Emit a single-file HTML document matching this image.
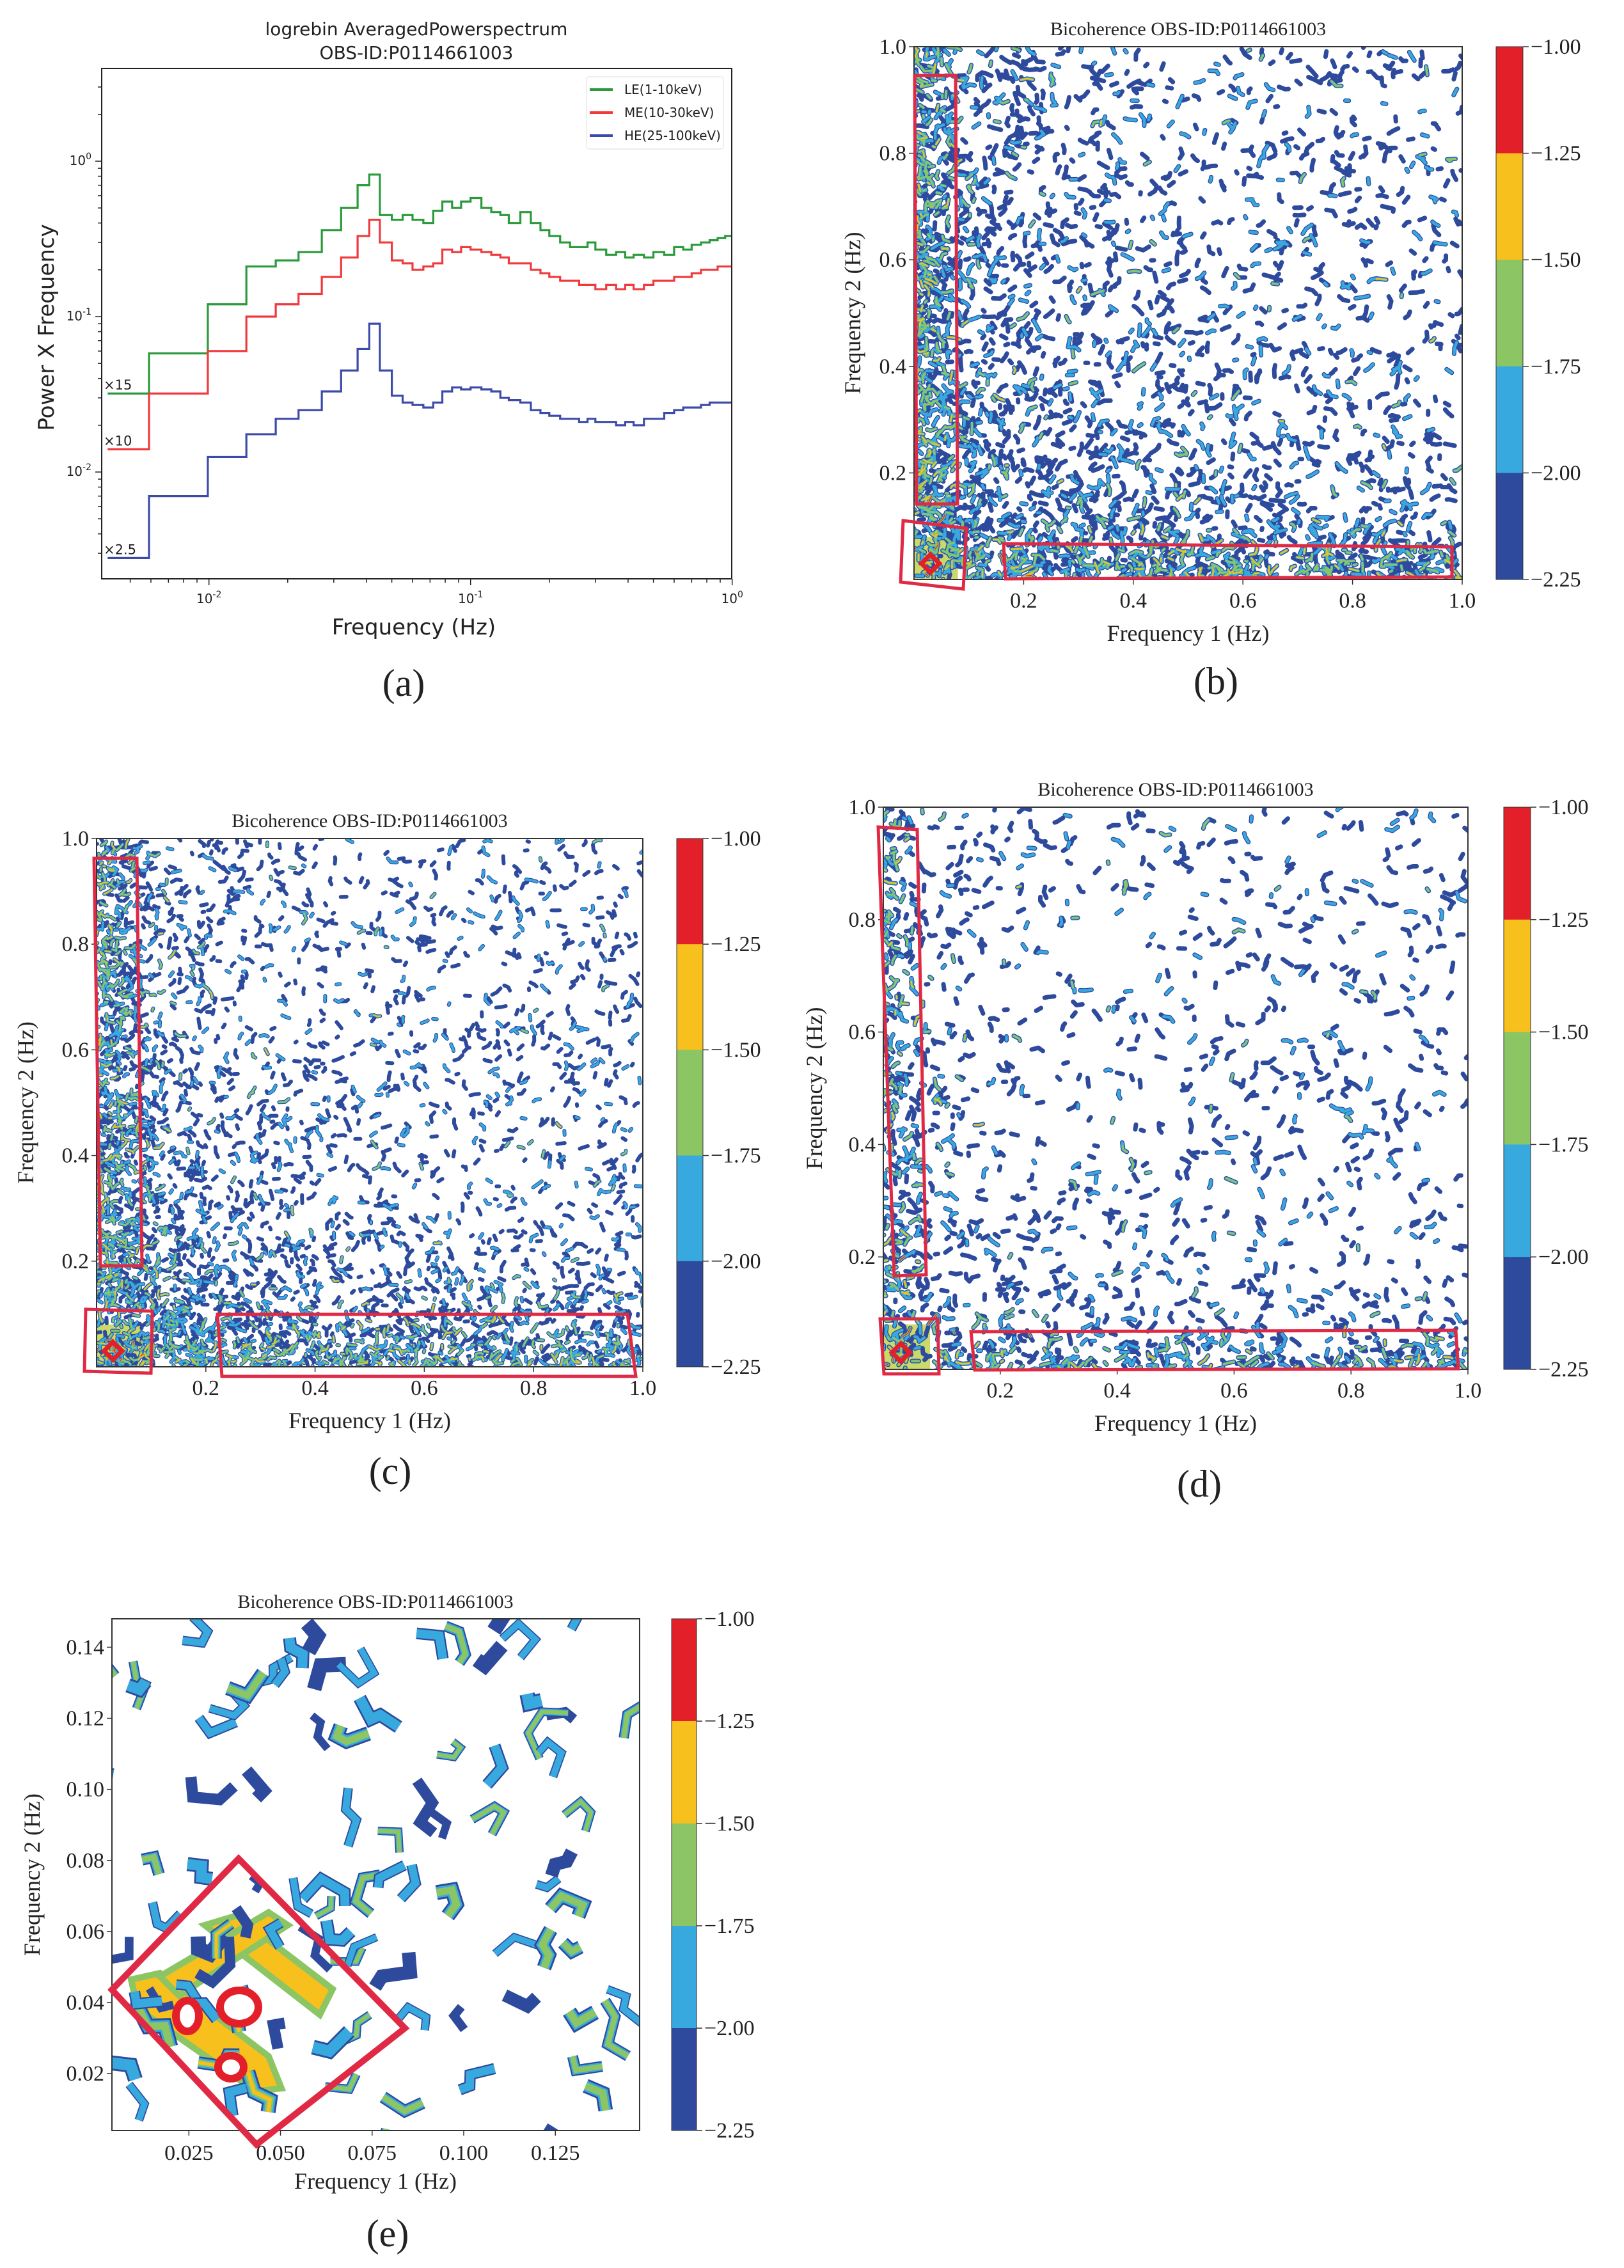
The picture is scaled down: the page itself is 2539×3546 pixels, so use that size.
<!DOCTYPE html>
<html><head><meta charset="utf-8">
<style>
html,body{margin:0;padding:0;background:#fff;}
svg{display:block;}
.sans{font-family:"DejaVu Sans","Liberation Sans",sans-serif;}
.serif{font-family:"Liberation Serif","DejaVu Serif",serif;}
</style></head>
<body>
<svg id="fig" xmlns="http://www.w3.org/2000/svg" width="2539" height="3546" viewBox="0 0 2539 3546">
<rect x="0" y="0" width="2539" height="3546" fill="#fff"/>
</svg>
<script>
// ---- Panel (a) data ----
const binEdges = [0.0041,0.0059,0.0099,0.0139,0.018,0.022,0.027,0.032,0.037,0.041,0.045,0.050,0.055,0.060,0.066,0.072,0.078,0.085,0.092,0.10,0.11,0.12,0.13,0.14,0.155,0.17,0.185,0.2,0.22,0.24,0.26,0.28,0.30,0.33,0.36,0.39,0.42,0.46,0.50,0.55,0.60,0.65,0.70,0.76,0.82,0.88,0.94,1.0];
const leValues = [0.032,0.058,0.12,0.21,0.23,0.26,0.36,0.5,0.7,0.82,0.45,0.42,0.45,0.42,0.40,0.48,0.55,0.50,0.55,0.58,0.50,0.47,0.45,0.40,0.47,0.40,0.36,0.33,0.30,0.28,0.28,0.30,0.27,0.25,0.26,0.24,0.25,0.24,0.26,0.25,0.28,0.27,0.29,0.30,0.31,0.32,0.33];
const meValues = [0.014,0.032,0.06,0.10,0.12,0.14,0.18,0.24,0.33,0.42,0.30,0.23,0.22,0.20,0.21,0.22,0.27,0.26,0.28,0.27,0.26,0.25,0.24,0.22,0.22,0.20,0.19,0.18,0.17,0.17,0.16,0.16,0.15,0.16,0.15,0.16,0.15,0.16,0.17,0.17,0.18,0.18,0.19,0.20,0.20,0.21,0.21];
const heValues = [0.0028,0.007,0.0125,0.0175,0.022,0.025,0.033,0.045,0.062,0.09,0.045,0.031,0.028,0.027,0.026,0.028,0.033,0.035,0.034,0.035,0.034,0.033,0.030,0.029,0.028,0.025,0.024,0.023,0.022,0.022,0.021,0.022,0.021,0.021,0.020,0.021,0.020,0.022,0.022,0.024,0.025,0.026,0.026,0.027,0.028,0.028,0.028];
const seriesNames = ["LE(1-10keV)","ME(10-30keV)","HE(25-100keV)"];
const scaleLabels = ["×15","×10","×2.5"];
const xDecades = [-2,-1,0];
const yDecades = [0,-1,-2];
// ---- colorbar data ----
const cbTicks = ["−1.00","−1.25","−1.50","−1.75","−2.00","−2.25"];
const linTicks01 = [0.2,0.4,0.6,0.8,1.0];
const zoomTicksX = [0.025,0.050,0.075,0.100,0.125];
const zoomTicksY = [0.02,0.04,0.06,0.08,0.10,0.12,0.14];

const NS="http://www.w3.org/2000/svg";
const svg=document.getElementById('fig');
function mk(tag,parent){const e=document.createElementNS(NS,tag);(parent||svg).appendChild(e);return e;}
function txt(parent,x,y,s,size,cls,anchor){const t=mk('text',parent);t.setAttribute('x',x);t.setAttribute('y',y);t.setAttribute('font-size',size);t.setAttribute('class',cls);t.setAttribute('text-anchor',anchor||'middle');t.setAttribute('fill','#222');t.textContent=s;return t;}
const COLS=["#2e4a9c","#38a9df","#8cc563","#f8c01c","#e3202a"];

// ================= Panel (a) =================
(function(){
const g=mk('g');


const L=159,R=1144,T=107,B=905;
const fx=f=>L+(Math.log10(f)+2.41)*409;
const py=p=>252-Math.log10(p)*243;
const cp=mk('clipPath',g);cp.setAttribute('id','clipA');
const cr=mk('rect',cp);cr.setAttribute('x',L);cr.setAttribute('y',T);cr.setAttribute('width',R-L);cr.setAttribute('height',B-T);
let t=txt(g,651,55,"logrebin AveragedPowerspectrum",28,'sans');


t=txt(g,651,92,"OBS-ID:P0114661003",28,'sans');


const series=[leValues,meValues,heValues];const cols=["#2a9a3a","#f0393c","#3c4aa8"];
series.forEach((vals,si)=>{
  let d='M'+fx(binEdges[0])+','+py(vals[0]);
  for(let i=0;i<vals.length;i++){ if(i>0) d+=' V'+py(vals[i]); d+=' H'+fx(binEdges[i+1]); }
  const p=mk('path',g);p.setAttribute('d',d);p.setAttribute('fill','none');p.setAttribute('stroke',cols[si]);p.setAttribute('stroke-width',3.2);p.setAttribute('clip-path','url(#clipA)');
  
  
  const s=txt(g,L+3,py(vals[0])-6,scaleLabels[si],21,'sans','start');
  
  
});
const fr=mk('rect',g);fr.setAttribute('x',L);fr.setAttribute('y',T);fr.setAttribute('width',R-L);fr.setAttribute('height',B-T);fr.setAttribute('fill','none');fr.setAttribute('stroke','#222');fr.setAttribute('stroke-width',2);


for(let dcd=-3;dcd<=0;dcd++){for(let k=1;k<10;k++){const f=k*Math.pow(10,dcd);if(f<0.0041||f>1.001)continue;const x=fx(f);const ln=mk('line',g);ln.setAttribute('x1',x);ln.setAttribute('x2',x);ln.setAttribute('y1',B);ln.setAttribute('y2',B+(k==1?10:6));ln.setAttribute('stroke','#222');ln.setAttribute('stroke-width',1.5);}}
xDecades.forEach(d=>{const x=fx(Math.pow(10,d));const tt=mk('text',g);tt.setAttribute('x',x);tt.setAttribute('y',B+38);tt.setAttribute('font-size',20);tt.setAttribute('class','sans');tt.setAttribute('text-anchor','middle');tt.setAttribute('fill','#222');tt.innerHTML='10<tspan dy="-9" font-size="14">'+d+'</tspan>';

});
for(let dcd=-3;dcd<=0;dcd++){for(let k=1;k<10;k++){const p=k*Math.pow(10,dcd);const y=py(p);if(y<T||y>B)continue;const ln=mk('line',g);ln.setAttribute('x1',L);ln.setAttribute('x2',L-(k==1?10:6));ln.setAttribute('y1',y);ln.setAttribute('y2',y);ln.setAttribute('stroke','#222');ln.setAttribute('stroke-width',1.5);}}
yDecades.forEach(d=>{const y=py(Math.pow(10,d));const tt=mk('text',g);tt.setAttribute('x',L-16);tt.setAttribute('y',y+6);tt.setAttribute('font-size',20);tt.setAttribute('class','sans');tt.setAttribute('text-anchor','end');tt.setAttribute('fill','#222');tt.innerHTML='10<tspan dy="-9" font-size="14">'+d+'</tspan>';

});
t=txt(g,647,992,"Frequency (Hz)",34,'sans');


t=txt(g,0,0,"Power X Frequency",34,'sans');t.setAttribute('transform','translate(84,512) rotate(-90)');


const lg=mk('g',g);


const lb=mk('rect',lg);lb.setAttribute('x',917);lb.setAttribute('y',120);lb.setAttribute('width',214);lb.setAttribute('height',113);lb.setAttribute('rx',4);lb.setAttribute('fill','#fff');lb.setAttribute('stroke','#ddd');
seriesNames.forEach((n,i)=>{const y=140+i*36;const ln=mk('line',lg);ln.setAttribute('x1',922);ln.setAttribute('x2',958);ln.setAttribute('y1',y);ln.setAttribute('y2',y);ln.setAttribute('stroke',cols[i]);ln.setAttribute('stroke-width',4);
const e=txt(lg,976,y+7,n,20,'sans','start');

});
t=txt(g,631,1088,"(a)",60,'serif');


})();

function rng(seed){let s=seed>>>0;return ()=>{s=(s*1664525+1013904223)>>>0;return s/4294967296;};}

function colorbar(g,x0,x1,T,B){
  const h=(B-T)/5;
  for(let i=0;i<5;i++){const r=mk('rect',g);r.setAttribute('x',x0);r.setAttribute('y',T+i*h);r.setAttribute('width',x1-x0);r.setAttribute('height',h+0.5);r.setAttribute('fill',COLS[4-i]);
  
  }
  const f=mk('rect',g);f.setAttribute('x',x0);f.setAttribute('y',T);f.setAttribute('width',x1-x0);f.setAttribute('height',B-T);f.setAttribute('fill','none');f.setAttribute('stroke','#333');f.setAttribute('stroke-width',1);
  cbTicks.forEach((s,i)=>{const y=T+i*h;const ln=mk('line',g);ln.setAttribute('x1',x1);ln.setAttribute('x2',x1+9);ln.setAttribute('y1',y);ln.setAttribute('y2',y);ln.setAttribute('stroke','#333');ln.setAttribute('stroke-width',1.5);
  const t=txt(g,x1+12,y+11,s,34,'serif','start');
  
  });
}

function axesCommon(g,c,xt,yt,xmin,xmax,fmt){
  const sx=v=>c.L+(v-xmin)/(xmax-xmin)*(c.R-c.L);
  const sy=v=>c.B-(v-xmin)/(xmax-xmin)*(c.B-c.T);
  const f=mk('rect',g);f.setAttribute('x',c.L);f.setAttribute('y',c.T);f.setAttribute('width',c.R-c.L);f.setAttribute('height',c.B-c.T);f.setAttribute('fill','none');f.setAttribute('stroke','#333');f.setAttribute('stroke-width',2);
  
  
  xt.forEach(v=>{const x=sx(v);const ln=mk('line',g);ln.setAttribute('x1',x);ln.setAttribute('x2',x);ln.setAttribute('y1',c.B);ln.setAttribute('y2',c.B+8);ln.setAttribute('stroke','#333');ln.setAttribute('stroke-width',1.5);
  const t=txt(g,x,c.B+44,fmt(v),34,'serif');
  
  });
  yt.forEach(v=>{const y=sy(v);const ln=mk('line',g);ln.setAttribute('x1',c.L);ln.setAttribute('x2',c.L-8);ln.setAttribute('y1',y);ln.setAttribute('y2',y);ln.setAttribute('stroke','#333');ln.setAttribute('stroke-width',1.5);
  const t=txt(g,c.L-12,y+11,fmt(v),34,'serif','end');
  
  });
  let t=txt(g,(c.L+c.R)/2,c.T-18,"Bicoherence OBS-ID:P0114661003",30,'serif');
  
  
  t=txt(g,(c.L+c.R)/2,c.B+96,"Frequency 1 (Hz)",36,'serif');
  
  
  t=txt(g,0,0,"Frequency 2 (Hz)",36,'serif');t.setAttribute('transform','translate('+c.yl+','+((c.T+c.B)/2)+') rotate(-90)');
  
  
  t=txt(g,c.lx,c.ly,c.label,60,'serif');
  
  
}

function speckle(c){
  const g=mk('g');
  
  
  const id='clip'+c.name;const cp=mk('clipPath',g);cp.setAttribute('id',id);
  const cr=mk('rect',cp);cr.setAttribute('x',c.L);cr.setAttribute('y',c.T);cr.setAttribute('width',c.R-c.L);cr.setAttribute('height',c.B-c.T);
  const tex=mk('g',g);tex.setAttribute('clip-path','url(#'+id+')');
  
  
  const r=rng(c.seed);const W=c.R-c.L,H=c.B-c.T;
  const base=mk('path',tex);
  base.setAttribute('d','M'+c.L+','+c.B+' L'+(c.L+0.08*W)+','+c.B+' L'+(c.L+0.08*W)+','+(c.B-0.08*H)+' L'+c.L+','+(c.B-0.08*H)+'Z');
  base.setAttribute('fill','#c9d96a');
  const layers=[[],[],[],[],[]];
  for(let i=0;i<c.N;i++){
    const u=r(),v=r();
    const near=Math.exp(-u/c.k)+Math.exp(-v/c.k);
    const p=Math.min(1,c.base+c.amp*near+c.corner*Math.exp(-(u+v)/0.3));
    if(r()>p)continue;
    const hot=Math.exp(-u/0.06)*Math.exp(-v/0.06);
    let lvl=0;const q=r();
    const boost=Math.min(1,near*1.2)*c.heat;
    if(q<0.3+boost*0.5)lvl=1;
    if(q<0.05+boost*0.45)lvl=2;
    if(q<0.005+boost*0.12+hot*0.5)lvl=3;
    if(q<hot*0.3)lvl=4;
    let x=c.L+u*W,y=c.B-v*H;let d='M'+x.toFixed(1)+','+y.toFixed(1);
    const segs=1+Math.floor(r()*2);let a=r()*Math.PI*2;
    for(let s=0;s<segs;s++){a+=(r()-0.5)*2;const len=(3+r()*8)*c.sz;x+=Math.cos(a)*len;y+=Math.sin(a)*len;d+=' L'+x.toFixed(1)+','+y.toFixed(1);}
    for(let l=0;l<=lvl;l++)layers[l].push(d);
  }
  const widths=[7,4.5,3,2,1.4];
  layers.forEach((arr,l)=>{if(!arr.length)return;const p=mk('path',tex);p.setAttribute('d',arr.join(' '));p.setAttribute('fill','none');p.setAttribute('stroke',COLS[l]);p.setAttribute('stroke-width',widths[l]*c.sz);p.setAttribute('stroke-linecap','round');p.setAttribute('stroke-linejoin','round');});
  const sp=mk('path',tex);const ox=c.L+0.03*W,oy=c.B-0.03*H;sp.setAttribute('d','M'+(ox-14)+','+oy+' L'+ox+','+(oy-14)+' L'+(ox+14)+','+oy+' L'+ox+','+(oy+14)+'Z');sp.setAttribute('fill','none');sp.setAttribute('stroke','#e3202a');sp.setAttribute('stroke-width',7);
  axesCommon(g,c,linTicks01,linTicks01,0,1,v=>v.toFixed(1));
  colorbar(g,c.cb0,c.cb1,c.T,c.B);
  c.boxes.forEach(b=>{const p=mk('polygon',g);p.setAttribute('points',b);p.setAttribute('fill','none');p.setAttribute('stroke','#e02a45');p.setAttribute('stroke-width',5);
  
  });
}

speckle({name:'panel-b',L:1429,R:2286,T:73,B:906,cb0:2339,cb1:2381,yl:1345,lx:1901,ly:1085,label:'(b)',seed:11,N:10000,base:0.13,amp:0.9,corner:0.6,k:0.07,heat:1.0,sz:1,
 boxes:['1430,118 1494,118 1497,788 1433,788','1412,814 1511,826 1506,921 1408,910','1569,850 2270,855 2270,902 1572,905']});
speckle({name:'panel-c',L:151,R:1005,T:1311,B:2137,cb0:1058,cb1:1099,yl:52,lx:610,ly:2320,label:'(c)',seed:23,N:13000,base:0.09,amp:1.0,corner:0.6,k:0.07,heat:1.0,sz:0.85,
 boxes:['147,1342 214,1342 222,1979 157,1979','134,2047 238,2050 236,2147 132,2144','340,2055 981,2055 994,2152 347,2152']});
speckle({name:'panel-d',L:1381,R:2295,T:1262,B:2141,cb0:2351,cb1:2393,yl:1285,lx:1875,ly:2340,label:'(d)',seed:37,N:9000,base:0.08,amp:0.8,corner:0.25,k:0.04,heat:0.9,sz:1,
 boxes:['1373,1293 1434,1297 1448,1993 1398,1995','1376,2062 1466,2062 1468,2148 1382,2148','1518,2082 2276,2080 2280,2140 1524,2142']});

// ================= Panel (e) =================
(function(){
const c={name:'panel-e',L:175,R:1000,T:2531,B:3331};
const g=mk('g');


const cp=mk('clipPath',g);cp.setAttribute('id','clipE');
const cr=mk('rect',cp);cr.setAttribute('x',c.L);cr.setAttribute('y',c.T);cr.setAttribute('width',c.R-c.L);cr.setAttribute('height',c.B-c.T);
const tex=mk('g',g);tex.setAttribute('clip-path','url(#clipE)');


const r=rng(91);
const inDiamond=(x,y)=>{const cx=400,cy=3135;return Math.abs((x-cx)*0.7+(y-cy)*0.7)<150&&Math.abs((x-cx)*0.7-(y-cy)*0.7)<190;};
[['205,3095 250,3085 420,3215 440,3265 400,3270 215,3140'],['320,3010 370,2995 520,3110 500,3150'],['250,3090 420,2990 450,3010 280,3120']].forEach(pt=>{const b=mk('polygon',tex);b.setAttribute('points',pt[0]);b.setAttribute('fill','#f8c01c');b.setAttribute('stroke','#8cc563');b.setAttribute('stroke-width',10);});
for(let i=0;i<110;i++){
  const x=c.L+r()*(c.R-c.L),y=c.T+r()*(c.B-c.T);
  const inD=inDiamond(x,y);
  if(!inD&&r()<0.2)continue;
  let lvl=Math.floor(r()*(inD?4:3));
  let px=x,py=y,a=r()*Math.PI*2;let d='M'+px.toFixed(1)+','+py.toFixed(1);
  const segs=2+Math.floor(r()*2);
  for(let s=0;s<segs;s++){a+=(r()<0.5?1:-1)*(0.8+r()*0.8);const len=15+r()*30;px+=Math.cos(a)*len;py+=Math.sin(a)*len;d+=' L'+px.toFixed(1)+','+py.toFixed(1);}
  const w=12+r()*12;
  for(let l=0;l<=lvl;l++){const p=mk('path',tex);p.setAttribute('d',d);p.setAttribute('fill','none');p.setAttribute('stroke',COLS[l]);p.setAttribute('stroke-width',w*(1-l*0.25));p.setAttribute('stroke-linejoin','miter');}
}
[[374,3138,30,26],[293,3152,18,24],[361,3232,20,18]].forEach(a=>{const e=mk('ellipse',tex);e.setAttribute('cx',a[0]);e.setAttribute('cy',a[1]);e.setAttribute('rx',a[2]);e.setAttribute('ry',a[3]);e.setAttribute('fill','#fff');e.setAttribute('stroke','#e3202a');e.setAttribute('stroke-width',12);

});
const sx=v=>c.L+(v-0.004)/(0.148-0.004)*(c.R-c.L);
const sy=v=>c.B-(v-0.004)/(0.148-0.004)*(c.B-c.T);
const f=mk('rect',g);f.setAttribute('x',c.L);f.setAttribute('y',c.T);f.setAttribute('width',c.R-c.L);f.setAttribute('height',c.B-c.T);f.setAttribute('fill','none');f.setAttribute('stroke','#333');f.setAttribute('stroke-width',2);
zoomTicksX.forEach(v=>{const x=sx(v);const ln=mk('line',g);ln.setAttribute('x1',x);ln.setAttribute('x2',x);ln.setAttribute('y1',c.B);ln.setAttribute('y2',c.B+8);ln.setAttribute('stroke','#333');ln.setAttribute('stroke-width',1.5);
const t=txt(g,x,c.B+46,v.toFixed(3),34,'serif');

});
zoomTicksY.forEach(v=>{const y=sy(v);const ln=mk('line',g);ln.setAttribute('x1',c.L);ln.setAttribute('x2',c.L-8);ln.setAttribute('y1',y);ln.setAttribute('y2',y);ln.setAttribute('stroke','#333');ln.setAttribute('stroke-width',1.5);
const t=txt(g,c.L-12,y+11,v.toFixed(2),34,'serif','end');

});
let t=txt(g,587,2514,"Bicoherence OBS-ID:P0114661003",30,'serif');


t=txt(g,587,3422,"Frequency 1 (Hz)",36,'serif');


t=txt(g,0,0,"Frequency 2 (Hz)",36,'serif');t.setAttribute('transform','translate(62,2931) rotate(-90)');


t=txt(g,606,3512,"(e)",60,'serif');


colorbar(g,1050,1089,c.T,c.B);
const dm=mk('polygon',g);dm.setAttribute('points','175,3111 373,2906 633,3171 401,3353');dm.setAttribute('fill','none');dm.setAttribute('stroke','#e02a45');dm.setAttribute('stroke-width',10);


})();
</script>
</body></html>
